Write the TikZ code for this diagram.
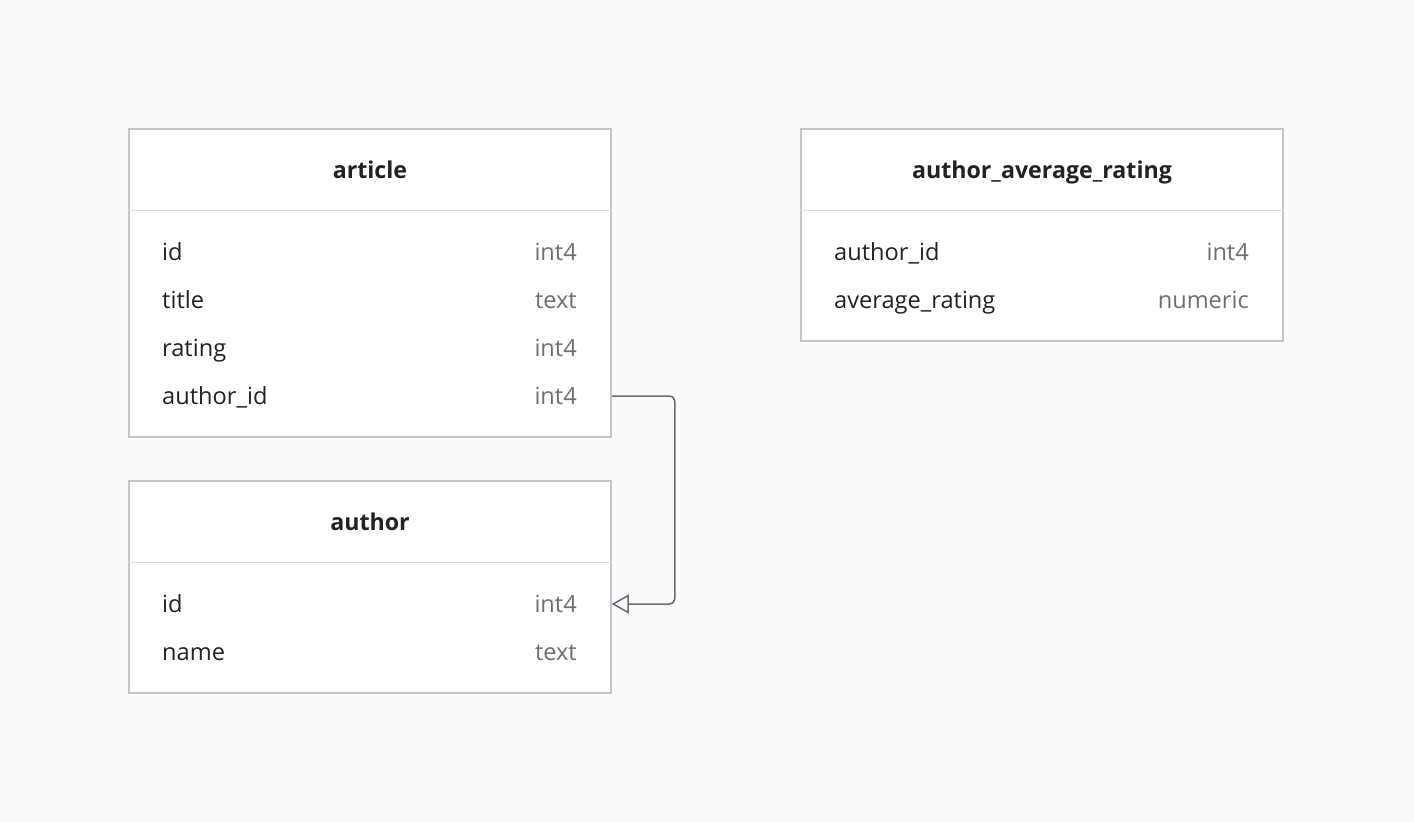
\documentclass[tikz,border=0pt]{standalone}
\usepackage{fontspec}
\setmainfont{Open Sans}
\usepackage{tikz}
\usetikzlibrary{arrows.meta}
\definecolor{pagebg}{HTML}{FAFAFA}
\definecolor{boxline}{HTML}{C4C4CC}
\definecolor{rowline}{HTML}{DEDEE2}
\definecolor{inkdark}{HTML}{222226}
\definecolor{inktype}{HTML}{6E6E78}
\definecolor{linkline}{HTML}{6B6B76}

\begin{document}
\begin{tikzpicture}[x=1pt, y=-1pt,
    tbl/.style={draw=boxline, line width=1.5pt, fill=white, minimum width=482pt, inner sep=0pt},
    tbltitle/.style={anchor=base, font=\fontsize{23.2}{28}\selectfont\bfseries, text=inkdark, inner sep=0pt},
    fname/.style={anchor=base west, font=\fontsize{23.6}{28}\selectfont, text=inkdark, inner sep=0pt},
    ftype/.style={anchor=base east, font=\fontsize{23.6}{28}\selectfont, text=inktype, inner sep=0pt}]
    \def\hdr{82}
    \def\rowh{48}
    \fill[pagebg] (0,0) rectangle (1414,822);
    \useasboundingbox (0,0) rectangle (1414,822);

    % article
    \node[tbl, minimum height=308pt] (article) at (370,283) {};
    \draw[rowline, line width=1.5pt] ([yshift=-\hdr pt]article.north west) -- ([yshift=-\hdr pt]article.north east);
    \node[tbltitle] (article-title) at (370,178) {article};
    \foreach \row/\name/\type [count=\i] in {id/id/int4, title/title/text, rating/rating/int4, authorid/author\_id/int4} {
        \node[fname] (article-\row) at (162, 212+\rowh*\i) {\name};
        \node[ftype] (article-\row-type) at (577, 212+\rowh*\i) {\type};
    }

    % author
    \node[tbl, minimum height=212pt] (author) at (370,587) {};
    \draw[rowline, line width=1.5pt] ([yshift=-\hdr pt]author.north west) -- ([yshift=-\hdr pt]author.north east);
    \node[tbltitle] (author-title) at (370,530) {author};
    \foreach \row/\name/\type [count=\i] in {id/id/int4, name/name/text} {
        \node[fname] (author-\row) at (162, 564+\rowh*\i) {\name};
        \node[ftype] (author-\row-type) at (577, 564+\rowh*\i) {\type};
    }

    % author_average_rating
    \node[tbl, minimum height=212pt] (avgrating) at (1042,235) {};
    \draw[rowline, line width=1.5pt] ([yshift=-\hdr pt]avgrating.north west) -- ([yshift=-\hdr pt]avgrating.north east);
    \node[tbltitle] (avgrating-title) at (1042,178) {author\_average\_rating};
    \foreach \row/\name/\type [count=\i] in {authorid/author\_id/int4, avg/average\_rating/numeric} {
        \node[fname] (avgrating-\row) at (834, 212+\rowh*\i) {\name};
        \node[ftype] (avgrating-\row-type) at (1249, 212+\rowh*\i) {\type};
    }

    % foreign key
    \coordinate (fk-from) at (article.east |- 0,396);
    \coordinate (fk-to) at (author.east |- 0,604);
    \draw[linkline, line width=1.5pt, rounded corners=5pt, -{Triangle[open, length=17pt, width=19pt]}]
        (fk-from) -- ++(63,0) |- (fk-to);
\end{tikzpicture}
\end{document}
